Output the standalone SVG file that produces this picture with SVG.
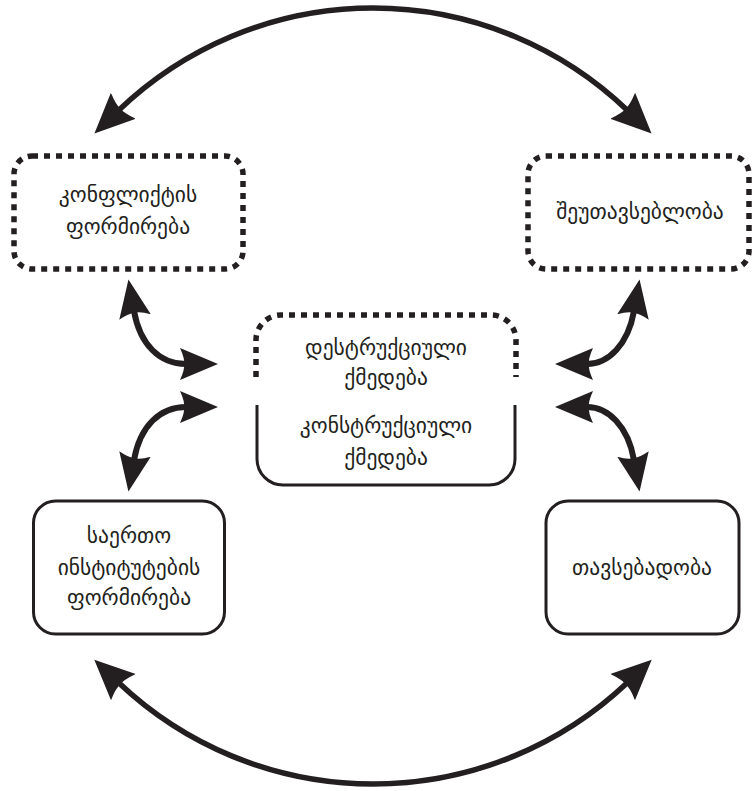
<svg xmlns="http://www.w3.org/2000/svg" width="752" height="791" viewBox="0 0 752 791">
<defs>
<style>
.dot{fill:none;stroke:#231f20;stroke-width:5.5;stroke-dasharray:6 6;}
.solid{fill:none;stroke:#231f20;stroke-width:3;}
.big{fill:none;stroke:#231f20;stroke-width:5.5;}
.sm{fill:none;stroke:#231f20;stroke-width:6;}
text{font-family:"DejaVu Sans","Noto Sans",sans-serif;font-size:21.5px;fill:#231f20;text-anchor:middle;}
</style>
<marker id="hb" markerUnits="userSpaceOnUse" viewBox="0 -19 42 38" markerWidth="42" markerHeight="38" refX="6" refY="0" orient="auto-start-reverse">
<path d="M40,0 L0,-18 Q5,-5 4,0 Q5,5 0,18 Z" fill="#231f20"/>
</marker>
<marker id="hs" markerUnits="userSpaceOnUse" viewBox="0 -17 40 34" markerWidth="40" markerHeight="34" refX="6" refY="0" orient="auto-start-reverse">
<path d="M38,0 L0,-16 Q5,-5 4,0 Q5,5 0,16 Z" fill="#231f20"/>
</marker>
</defs>
<g id="connectors">
<path class="big" d="M119,110 A367.3,367.3 0 0 1 627,110" marker-start="url(#hb)" marker-end="url(#hb)"/>
<path class="big" d="M119,683 A369.9,369.9 0 0 0 627,683" marker-start="url(#hb)" marker-end="url(#hb)"/>
<path class="sm" d="M134,311 C140,345 160,364 186,364" marker-start="url(#hs)" marker-end="url(#hs)"/>
<path class="sm" d="M186,407 C160,407 140,426 134,460" marker-start="url(#hs)" marker-end="url(#hs)"/>
<path class="sm" d="M634,311 C628,345 608,364 587,364" marker-start="url(#hs)" marker-end="url(#hs)"/>
<path class="sm" d="M587,407 C608,407 628,426 634,460" marker-start="url(#hs)" marker-end="url(#hs)"/>
</g>
<g id="conflict">
<rect class="dot" x="14" y="156" width="229" height="113" rx="18"/>
<text x="128" y="202">კონფლიქტის</text>
<text x="128" y="234">ფორმირება</text>
</g>
<g id="incompatibility">
<rect class="dot" x="528" y="156" width="221" height="113" rx="18"/>
<text x="640" y="219">შეუთავსებლობა</text>
</g>
<g id="destructive">
<path class="dot" d="M256,377 V340 A25,25 0 0 1 281,315 H491 A25,25 0 0 1 516,340 V377"/>
<text x="386" y="355">დესტრუქციული</text>
<text x="386" y="385">ქმედება</text>
</g>
<g id="constructive">
<path class="solid" d="M257,405 V459 A26,26 0 0 0 283,485 H489 A26,26 0 0 0 515,459 V405"/>
<text x="386" y="433">კონსტრუქციული</text>
<text x="386" y="465">ქმედება</text>
</g>
<g id="institutions">
<rect class="solid" x="33.5" y="501" width="191" height="133" rx="22"/>
<text x="129" y="543">საერთო</text>
<text x="129" y="575">ინსტიტუტების</text>
<text x="129" y="605">ფორმირება</text>
</g>
<g id="compatibility">
<rect class="solid" x="546" y="501" width="193" height="133" rx="22"/>
<text x="642" y="575">თავსებადობა</text>
</g>
</svg>
